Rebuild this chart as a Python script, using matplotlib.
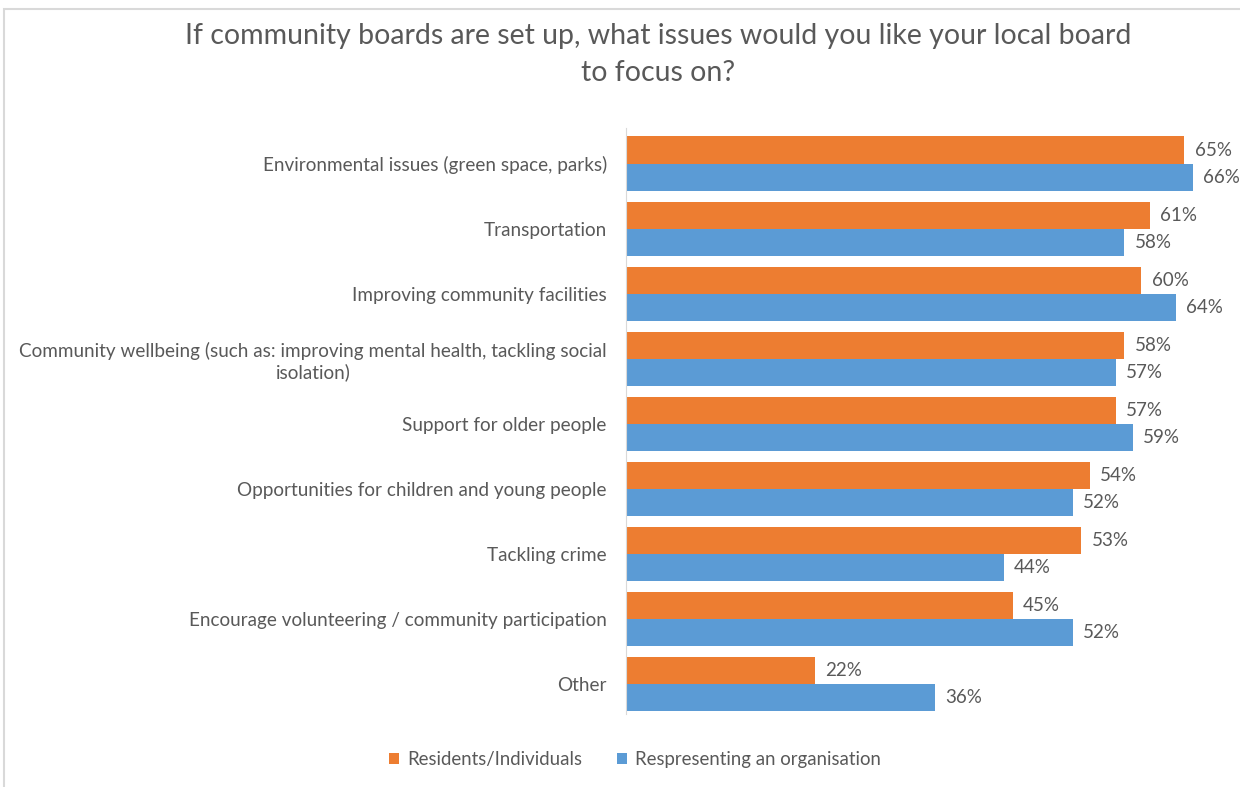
import numpy as np
import matplotlib
matplotlib.use('Agg')
import matplotlib.pyplot as plt
from matplotlib.patches import Rectangle

categories = [
    "Environmental issues (green space, parks)",
    "Transportation",
    "Improving community facilities",
    "Community wellbeing (such as: improving mental health, tackling social\nisolation)",
    "Support for older people",
    "Opportunities for children and young people",
    "Tackling crime",
    "Encourage volunteering / community participation",
    "Other",
]
residents = [65, 61, 60, 58, 57, 54, 53, 45, 22]
organisations = [66, 58, 64, 57, 59, 52, 44, 52, 36]
series_names = ["Residents/Individuals", "Respresenting an organisation"]

orange = '#ED7D31'
blue = '#5B9BD5'
text_grey = '#595959'

plt.rcParams['font.family'] = ['Lato', 'DejaVu Sans']

fig = plt.figure(figsize=(12.4, 7.87), dpi=100)
ax = fig.add_axes([0.505, 0.089, 0.495, 0.7446])

y = np.arange(len(categories))
h = 0.415
ax.barh(y - h / 2, residents, height=h, color=orange, label=series_names[0])
ax.barh(y + h / 2, organisations, height=h, color=blue, label=series_names[1])

for yi, r, o in zip(y, residents, organisations):
    ax.text(r + 1.2, yi - h / 2, f"{r}%", va='center', ha='left', fontsize=13.5, color=text_grey)
    ax.text(o + 1.2, yi + h / 2, f"{o}%", va='center', ha='left', fontsize=13.5, color=text_grey)

ax.set_xlim(0, 71.5)
ax.set_ylim(len(categories) - 0.5, -0.5)
ax.set_yticks(y)
ax.set_yticklabels(categories, fontsize=13.6, color=text_grey, multialignment='center')
ax.tick_params(axis='y', length=0, pad=14)
ax.set_xticks([])
for side in ['top', 'right', 'bottom']:
    ax.spines[side].set_visible(False)
ax.spines['left'].set_color('#D9D9D9')
ax.spines['left'].set_bounds(-0.55, 8.45)

fig.text(0.531, 0.931, "If community boards are set up, what issues would you like your local board\nto focus on?",
         ha='center', va='center', fontsize=20.5, color=text_grey, linespacing=1.55)

# outer chart frame
fig.patches.append(Rectangle((0.003, -0.01), 1.2, 0.998, transform=fig.transFigure,
                             fill=False, edgecolor='#D9D9D9', linewidth=1.5))

fig.legend(loc='center', bbox_to_anchor=(0.512, 0.035), ncol=2, frameon=False,
           fontsize=13.4, handlelength=0.55, handleheight=0.55, handletextpad=0.4,
           columnspacing=1.9, labelcolor=text_grey)

fig.savefig('out.png', dpi=100)
